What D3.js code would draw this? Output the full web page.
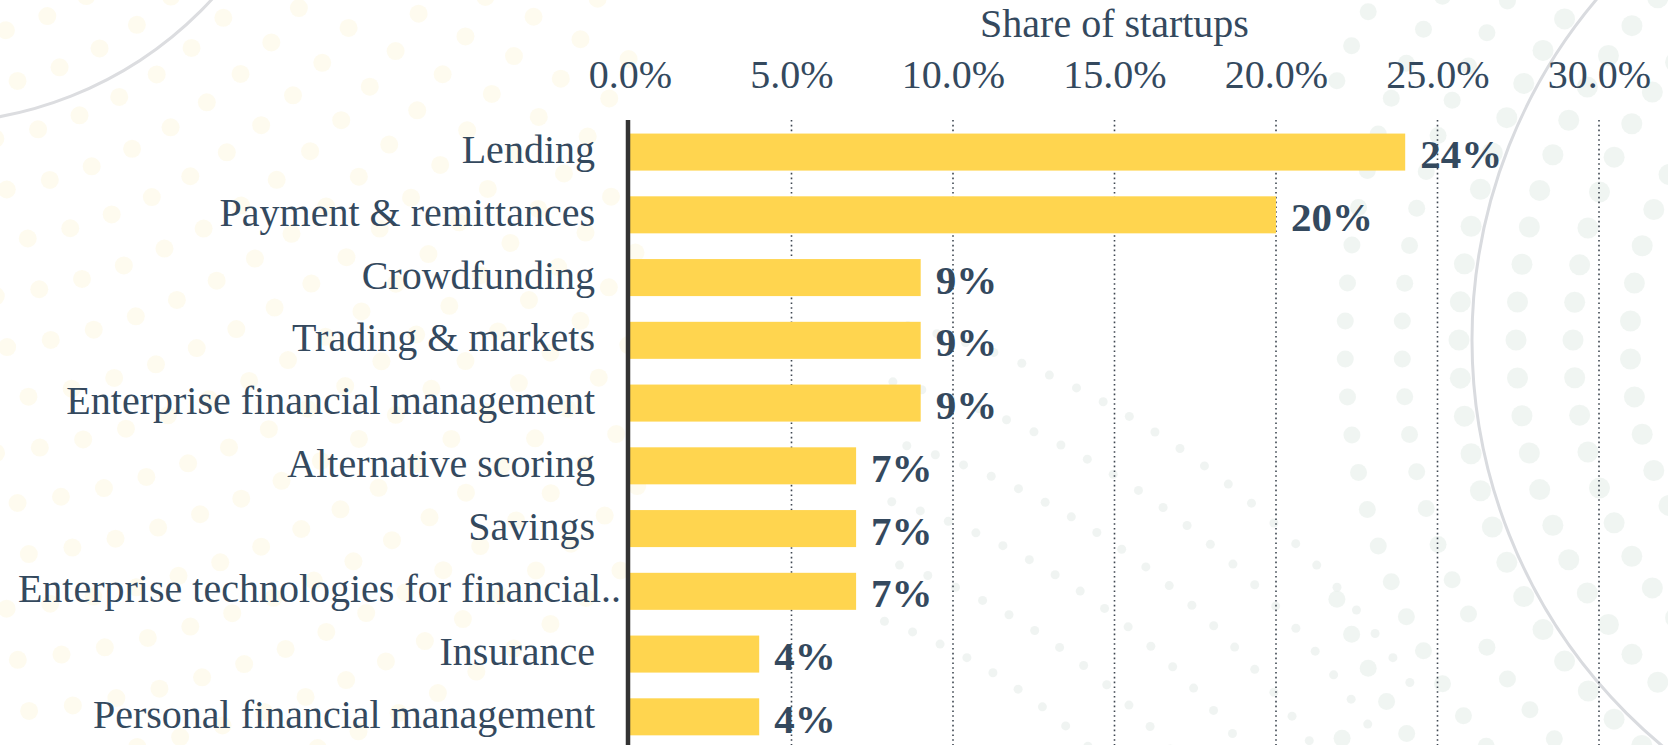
<!DOCTYPE html>
<html>
<head>
<meta charset="utf-8">
<script src="https://cdn.jsdelivr.net/npm/d3@7"></script>
<style>
  html, body { margin: 0; padding: 0; background: #ffffff; }
  svg { display: block; }
</style>
</head>
<body>
<svg id="chart" width="1668" height="745"></svg>
<script>
// Fintech startups by segment (share of all startups, %)
const categories = [
  "Lending",
  "Payment & remittances",
  "Crowdfunding",
  "Trading & markets",
  "Enterprise financial management",
  "Alternative scoring",
  "Savings",
  "Enterprise technologies for financial institutions",
  "Insurance",
  "Personal financial management"
];
const shares = [24, 20, 9, 9, 9, 7, 7, 7, 4, 4];
const tickValues = [0, 5, 10, 15, 20, 25, 30];
const axisTitle = "Share of startups";

const W = 1668, H = 745;
const textColor = "#34495e";
const barColor = "#ffd54f";
const serif = "'Liberation Serif', 'Times New Roman', serif";

const svg = d3.select("#chart");

// ---- decorative background: faint dot rings and two thin arcs ----
const bg = svg.append("g").attr("class", "background");

function dotRing(cx, cy, radii, spacing, rFn, color, opacity) {
  radii.forEach((r, k) => {
    const n = Math.max(8, Math.round(2 * Math.PI * r / spacing));
    for (let j = 0; j < n; j++) {
      const a = (j + (k % 2) * 0.5) / n * 2 * Math.PI;
      const x = cx + r * Math.cos(a), y = cy + r * Math.sin(a);
      if (x < -15 || x > W + 15 || y < -15 || y > H + 15) continue;
      const rad = rFn(r, x, y);
      if (rad <= 0) continue;
      bg.append("circle")
        .attr("cx", x).attr("cy", y)
        .attr("r", rad)
        .attr("fill", color)
        .attr("opacity", opacity);
    }
  });
}

// warm dots on the left
dotRing(-70, -260, d3.range(300, 1120, 52), 44,
  (r, x) => x < 640 ? 9 : 0, "#fdf4d6", 0.4);
// cool dots on the right
dotRing(2000, 340, d3.range(370, 900, 57), 38,
  (r, x) => x > 1330 ? (r < 560 ? 10.5 : 8.5) : 0, "#e3ede7", 0.55);
// small dots sweeping through the middle
dotRing(700, 1150, d3.range(560, 900, 58), 30,
  (r, x, y) => (x > 880 && x < 1420 && y > 280) ? 4.5 : 0, "#e4ebe7", 0.55);

bg.append("circle")
  .attr("cx", -70).attr("cy", -260).attr("r", 383)
  .attr("fill", "none").attr("stroke", "#dcdde0").attr("stroke-width", 3);
bg.append("circle")
  .attr("cx", 2000).attr("cy", 340).attr("r", 528)
  .attr("fill", "none").attr("stroke", "#d9dbdf").attr("stroke-width", 3);

// ---- scales ----
const x0 = 630;
const x = d3.scaleLinear().domain([0, 30]).range([x0, 1599]);
const y = d3.scaleBand()
  .domain(categories)
  .range([120.7, 748.2])
  .paddingInner(0.41)
  .paddingOuter(0.205);

// ---- dotted vertical gridlines ----
const grid = svg.append("g").attr("class", "grid");
grid.selectAll("line")
  .data(tickValues.filter(d => d > 0))
  .join("line")
  .attr("x1", d => x(d)).attr("x2", d => x(d))
  .attr("y1", 120).attr("y2", H)
  .attr("stroke", "#3e4650")
  .attr("stroke-width", 1.6)
  .attr("stroke-dasharray", "1.6,3.2");

// ---- top axis with percentage labels ----
const xAxis = d3.axisTop(x)
  .tickValues(tickValues)
  .tickSize(0)
  .tickPadding(0)
  .tickFormat(d => d.toFixed(1) + "%");

const axisG = svg.append("g")
  .attr("transform", "translate(0,88)")
  .call(xAxis);
axisG.select(".domain").remove();
axisG.selectAll("text")
  .attr("font-family", serif)
  .attr("font-size", 40)
  .attr("fill", textColor);

svg.append("text")
  .attr("x", (x(0) + x(30)) / 2)
  .attr("y", 37)
  .attr("text-anchor", "middle")
  .attr("font-family", serif)
  .attr("font-size", 40)
  .attr("fill", textColor)
  .text(axisTitle);

// ---- bars ----
const rows = categories.map((c, i) => ({ cat: c, value: shares[i] }));

svg.append("g").selectAll("rect")
  .data(rows)
  .join("rect")
  .attr("x", x(0))
  .attr("y", d => y(d.cat))
  .attr("width", d => x(d.value) - x(0))
  .attr("height", y.bandwidth())
  .attr("fill", barColor);

// ---- value labels ----
svg.append("g").selectAll("text")
  .data(rows)
  .join("text")
  .attr("x", d => x(d.value) + 15)
  .attr("y", d => y(d.cat) + y.bandwidth() / 2 + 16)
  .attr("font-family", serif)
  .attr("font-size", 41)
  .attr("font-weight", "bold")
  .attr("fill", textColor)
  .text(d => Math.round(d.value) + "%");

// ---- category labels (long names are shortened) ----
const maxChars = 40;
const shortName = s => s.length > maxChars ? s.slice(0, 37) + ".." : s;

svg.append("g").selectAll("text")
  .data(rows)
  .join("text")
  .attr("x", d => d.cat.length > maxChars ? x0 - 9 : x0 - 35)
  .attr("y", d => y(d.cat) + y.bandwidth() / 2 + 11)
  .attr("text-anchor", "end")
  .attr("font-family", serif)
  .attr("font-size", 40)
  .attr("fill", textColor)
  .text(d => shortName(d.cat));

// ---- vertical baseline at zero ----
svg.append("line")
  .attr("x1", 628).attr("x2", 628)
  .attr("y1", 120).attr("y2", H)
  .attr("stroke", "#333333")
  .attr("stroke-width", 4.5);
</script>
</body>
</html>
